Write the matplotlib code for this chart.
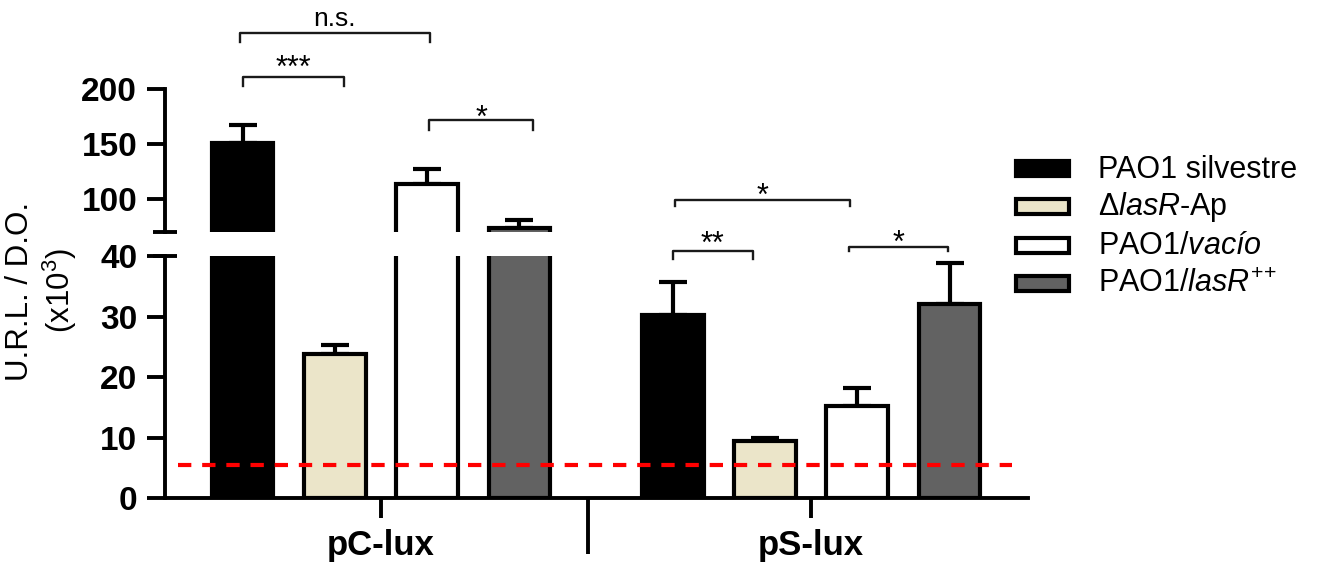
import numpy as np
import matplotlib
matplotlib.use('Agg')
import matplotlib.pyplot as plt
from matplotlib.patches import Rectangle

plt.rcParams['font.family'] = ['Liberation Sans', 'DejaVu Sans']
plt.rcParams['mathtext.fontset'] = 'custom'
plt.rcParams['mathtext.rm'] = 'Liberation Sans'
plt.rcParams['mathtext.it'] = 'Liberation Sans:italic'
plt.rcParams['mathtext.bf'] = 'Liberation Sans:bold'

# ---------------- data ----------------
groups = ['pC-lux', 'pS-lux']
series = ['PAO1 silvestre', r'Δ$\mathit{lasR}$-Ap', r'PAO1/$\mathit{vacío}$',
          r'PAO1/$\mathit{lasR}^{{+}{+}}$']
colors = ['#000000', '#EBE5C9', '#FFFFFF', '#626262']
mean_pC = [150.5, 23.8, 114.0, 73.5]
sem_pC = [17.0, 1.5, 13.5, 7.7]
mean_pS = [30.3, 9.5, 15.2, 32.1]
sem_pS = [5.4, 0.45, 3.0, 6.8]
detection_limit = 5.45
upper_ticks = [100, 150, 200]
lower_ticks = [0, 10, 20, 30, 40]
ylabel = 'U.R.L. / D.O.\n(x10$^{3}$)'
sig_labels = ['n.s.', '***', '*', '*', '**', '*']

means = [mean_pC, mean_pS]
sems = [sem_pC, sem_pS]

# ---------------- layout ----------------
W, H = 1320, 566
fig = plt.figure(figsize=(W / 100, H / 100), dpi=100)

def fx(px):
    return px / W

def fy(py):
    return 1 - py / H

left_px, right_px = 165, 1028
ax_lo = fig.add_axes([fx(left_px), fy(498), (right_px - left_px) / W, (498 - 256) / H])
ax_up = fig.add_axes([fx(left_px), fy(232), (right_px - left_px) / W, (232 - 89) / H], sharex=ax_lo)
ax_up.patch.set_visible(False)
ax_lo.patch.set_visible(False)

group_offsets = [0.0, 4.66]
bar_w = 0.67
LW = 3
SP = 2.8

for ax in (ax_up, ax_lo):
    for g in range(len(groups)):
        x = group_offsets[g] + np.arange(len(series))
        ax.bar(x, means[g], width=bar_w, color=colors, edgecolor='black',
               linewidth=LW, zorder=2)
        ax.errorbar(x, means[g], yerr=[np.zeros(len(series)), sems[g]], fmt='none',
                    ecolor='black', elinewidth=LW, capsize=10.4, capthick=LW, zorder=1)
    for s in ('top', 'right'):
        ax.spines[s].set_visible(False)
    ax.spines['left'].set_linewidth(SP)
    ax.spines['bottom'].set_linewidth(SP)
    ax.tick_params(axis='y', length=13, width=SP, pad=7, labelsize=24)

ax_lo.set_xlim(-0.84, 8.51)
ax_lo.set_ylim(0, 40)
ax_up.set_ylim(70, 200)
ax_lo.set_yticks(lower_ticks)
ax_up.set_yticks(upper_ticks)
for ax in (ax_up, ax_lo):
    for lbl in ax.get_yticklabels():
        lbl.set_fontweight('bold')

ax_up.spines['bottom'].set_visible(False)
ax_up.tick_params(axis='x', which='both', bottom=False, labelbottom=False)

centers = [o + (len(series) - 1) / 2 for o in group_offsets]
ax_lo.set_xticks(centers)
ax_lo.set_xticklabels(groups, fontsize=25, fontweight='bold')
ax_lo.set_xticks([group_offsets[1] - 0.92], minor=True)
ax_lo.tick_params(axis='x', which='major', length=14.4, width=SP, pad=8)
ax_lo.tick_params(axis='x', which='minor', length=40, width=SP)

# detection limit
ax_lo.hlines(detection_limit, -0.70, 8.34, colors='#FF0000', linestyles=(0, (3.2, 2.6)),
             linewidth=3, zorder=3)

# axis break caps
cap = 12 / (right_px - left_px)
ax_up.plot([-cap, cap], [0, 0], transform=ax_up.transAxes, color='black', lw=SP,
           clip_on=False, solid_capstyle='butt')
ax_lo.plot([-cap, cap], [1, 1], transform=ax_lo.transAxes, color='black', lw=SP,
           clip_on=False, solid_capstyle='butt')

# significance brackets: (axis, x1, x2, y, leg, text offset px, fontsize)
brackets = [
    (ax_up, -0.03, 2.03, 250.9, 8.2, 7, 19),
    (ax_up, 0.00, 1.10, 210.9, 8.2, 0, 22),
    (ax_up, 2.02, 3.15, 171.8, 9.1, -7, 22),
    (ax_lo, 4.69, 6.58, 49.3, 1.0, -5, 22),
    (ax_lo, 4.66, 5.53, 40.8, 1.3, -2, 22),
    (ax_lo, 6.57, 7.64, 41.5, 0.6, -5, 22),
]
for (ax, x1, x2, y, leg, dy, fs), lab in zip(brackets, sig_labels):
    ax.plot([x1, x1, x2, x2], [y - leg, y, y, y - leg], color='#1a1a1a', lw=1.7,
            clip_on=False, zorder=4)
    ax.annotate(lab, xy=((x1 + x2) / 2, y), xytext=(0, dy * 0.72),
                textcoords='offset points', ha='center', va='baseline',
                fontsize=fs, annotation_clip=False)

# legend (manual)
row_c = [168, 206, 245, 283]
for i, lab in enumerate(series):
    r = Rectangle((fx(1016), fy(row_c[i] + 7.5)), 53 / W, 15 / H,
                  transform=fig.transFigure, facecolor=colors[i], edgecolor='black',
                  linewidth=LW)
    fig.add_artist(r)
    fig.text(fx(1098), fy(row_c[i] + 9.5), lab, fontsize=22, ha='left', va='baseline')

# y label
fig.text(fx(42), fy(291), ylabel, rotation=90, ha='center', va='center',
         fontsize=22.5, multialignment='center', linespacing=1.2)

fig.savefig('out.png', dpi=100)
